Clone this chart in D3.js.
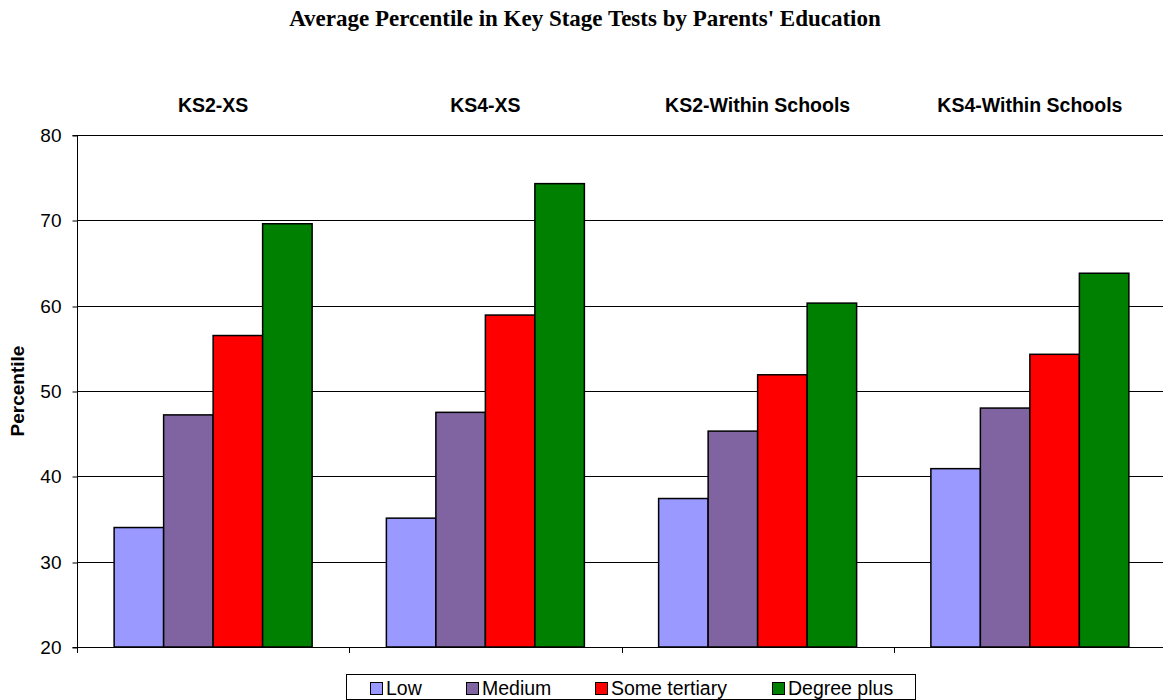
<!DOCTYPE html>
<html>
<head>
<meta charset="utf-8">
<script src="https://cdn.jsdelivr.net/npm/d3@7"></script>
<style>
  body { margin: 0; background: #fff; }
  text { font-family: "Liberation Sans", Arial, sans-serif; }
</style>
</head>
<body>
<div id="chart"></div>
<script>
// Data
const categories = ["KS2-XS", "KS4-XS", "KS2-Within Schools", "KS4-Within Schools"];
const seriesNames = ["Low", "Medium", "Some tertiary", "Degree plus"];
const low = [34.0, 35.1, 37.4, 40.9];
const medium = [47.2, 47.5, 45.3, 48.0];
const someTertiary = [56.5, 58.9, 51.9, 54.3];
const degreePlus = [69.6, 74.3, 60.3, 63.8];
const yTicks = [20, 30, 40, 50, 60, 70, 80];

const seriesValues = [low, medium, someTertiary, degreePlus];
const colors = ["#9999ff", "#8064a2", "#ff0000", "#008000"];

const width = 1163;
const height = 700;
const margin = { top: 135, right: -3, bottom: 53, left: 77 };

const svg = d3.select("#chart")
    .append("svg")
    .attr("width", width)
    .attr("height", height);

const x0 = d3.scaleBand()
    .domain(categories)
    .range([margin.left, width - margin.right])
    .paddingInner(0)
    .paddingOuter(0);

// gap width 150% -> 0.75 step on each side of the group
const x1 = d3.scaleBand()
    .domain(seriesNames)
    .range([0, x0.bandwidth()])
    .paddingOuter(0.75)
    .paddingInner(0);

const y = d3.scaleLinear()
    .domain([20, 80])
    .range([height - margin.bottom, margin.top]);

// Title
svg.append("text")
    .attr("x", 585)
    .attr("y", 26)
    .attr("text-anchor", "middle")
    .style("font-family", "'Liberation Serif', 'Times New Roman', serif")
    .style("font-weight", "bold")
    .style("font-size", "23px")
    .text("Average Percentile in Key Stage Tests by Parents' Education");

// Gridlines
svg.append("g")
    .selectAll("line")
    .data(yTicks)
    .join("line")
    .attr("x1", margin.left)
    .attr("x2", width)
    .attr("y1", d => Math.round(y(d)) + 0.5)
    .attr("y2", d => Math.round(y(d)) + 0.5)
    .attr("stroke", "#000")
    .attr("stroke-width", 1);

// Y axis
const yAxis = svg.append("g")
    .attr("transform", `translate(${margin.left + 0.5},0.5)`)
    .call(d3.axisLeft(y).tickValues(yTicks).tickSize(5).tickPadding(11).tickFormat(d3.format("d")));
yAxis.select(".domain").attr("stroke", "#000").attr("d", `M-5,${Math.round(y(80))}H0V${Math.round(y(20))}H-5`);
yAxis.selectAll(".tick line").attr("stroke", "#000")
    .attr("transform", d => `translate(0,${Math.round(y(d)) - y(d)})`);
yAxis.selectAll(".tick text")
    .attr("fill", "#000")
    .style("font-size", "19px")
    .style("font-family", "'Liberation Sans', Arial, sans-serif");

// Category boundary ticks on x axis
const boundaries = categories.map(c => x0(c));
svg.append("g")
    .selectAll("line")
    .data(boundaries)
    .join("line")
    .attr("x1", d => Math.round(d) + 0.5)
    .attr("x2", d => Math.round(d) + 0.5)
    .attr("y1", Math.round(y(20)))
    .attr("y2", Math.round(y(20)) + 6)
    .attr("stroke", "#000");

// Bars
const groups = svg.append("g")
    .selectAll("g")
    .data(categories)
    .join("g")
    .attr("transform", c => `translate(${x0(c)},0)`);

groups.selectAll("rect")
    .data((c, ci) => seriesNames.map((s, si) => ({ s, si, v: seriesValues[si][ci] })))
    .join("rect")
    .attr("x", d => x1(d.s))
    .attr("y", d => y(d.v))
    .attr("width", x1.bandwidth())
    .attr("height", d => y(20) - y(d.v))
    .attr("fill", d => colors[d.si])
    .attr("stroke", "#000")
    .attr("stroke-width", 1.5);

// Category labels at top
svg.append("g")
    .selectAll("text")
    .data(categories)
    .join("text")
    .attr("x", c => x0(c) + x0.bandwidth() / 2)
    .attr("y", 112)
    .attr("text-anchor", "middle")
    .style("font-weight", "bold")
    .style("font-size", "19.5px")
    .text(c => c);

// Y axis title
svg.append("text")
    .attr("transform", `translate(24,${(y(20) + y(80)) / 2}) rotate(-90)`)
    .attr("text-anchor", "middle")
    .style("font-weight", "bold")
    .style("font-size", "19px")
    .text("Percentile");

// Legend
const legend = svg.append("g");
legend.append("rect")
    .attr("x", 346.5)
    .attr("y", 674.5)
    .attr("width", 569)
    .attr("height", 25)
    .attr("fill", "#fff")
    .attr("stroke", "#000");

const legendX = [370, 466, 595, 772];
const items = legend.selectAll("g.item")
    .data(seriesNames)
    .join("g")
    .attr("class", "item")
    .attr("transform", (d, i) => `translate(${legendX[i]},682)`);
items.append("rect")
    .attr("x", 0.5)
    .attr("y", 0.5)
    .attr("width", 12)
    .attr("height", 12)
    .attr("fill", (d, i) => colors[i])
    .attr("stroke", "#000");
items.append("text")
    .attr("x", 16)
    .attr("y", 13)
    .style("font-size", "19.5px")
    .text(d => d);
</script>
</body>
</html>
